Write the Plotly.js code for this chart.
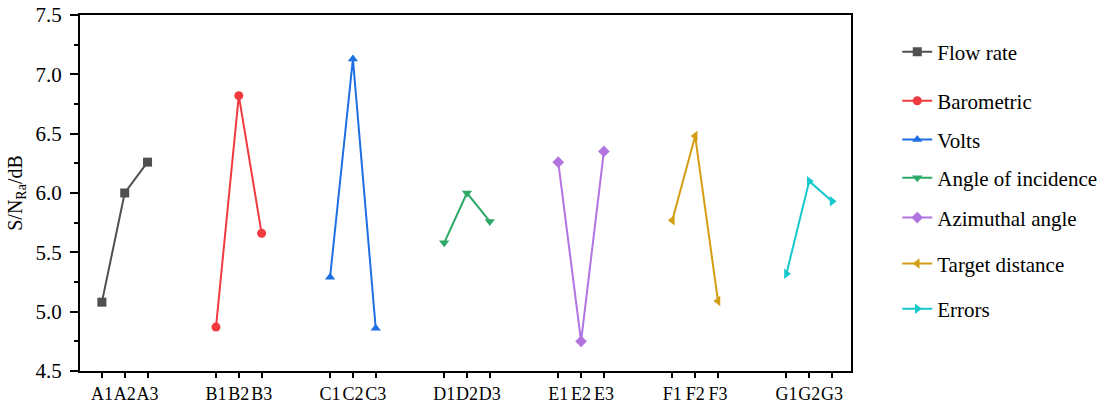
<!DOCTYPE html>
<html>
<head>
<meta charset="utf-8">
<script src="https://cdn.plot.ly/plotly-3.0.1.min.js"></script>
<style>html,body{margin:0;padding:0;background:#fff;}#chart{width:1111px;height:403px;}</style>
</head>
<body>
<div id="chart"></div>
<script>
// Data
const seriesNames = ['Flow rate', 'Barometric', 'Volts', 'Angle of incidence', 'Azimuthal angle', 'Target distance', 'Errors'];
const levelLabels = [
  ['A1', 'A2', 'A3'],
  ['B1', 'B2', 'B3'],
  ['C1', 'C2', 'C3'],
  ['D1', 'D2', 'D3'],
  ['E1', 'E2', 'E3'],
  ['F1', 'F2', 'F3'],
  ['G1', 'G2', 'G3']
];
const flowRate = [5.08, 6.00, 6.26];
const barometric = [4.87, 6.82, 5.66];
const volts = [5.29, 7.13, 4.86];
const angleOfIncidence = [5.58, 6.00, 5.76];
const azimuthalAngle = [6.26, 4.75, 6.35];
const targetDistance = [5.77, 6.48, 5.09];
const errors = [5.32, 6.10, 5.93];
const seriesValues = [flowRate, barometric, volts, angleOfIncidence, azimuthalAngle, targetDistance, errors];

// Styles
const colors = ['#505050', '#F03A40', '#1E6FE3', '#2EA866', '#B274E0', '#D49E12', '#14C8CC'];
const symbols = ['square', 'circle', 'triangle-up', 'triangle-down', 'diamond', 'triangle-left', 'triangle-right'];
const legendY = [0.896, 0.758, 0.649, 0.542, 0.430, 0.301, 0.174];
const font = 'Liberation Serif';

const groupStep = 5;
const tickvals = [], ticktext = [];
const traces = seriesNames.map((name, g) => {
  const xs = levelLabels[g].map((lab, i) => {
    const pos = g * groupStep + i + 1;
    tickvals.push(pos); ticktext.push(lab);
    return pos;
  });
  return {
    type: 'scatter', mode: 'lines+markers', name: name,
    x: xs, y: seriesValues[g],
    line: {color: colors[g], width: 2},
    marker: {symbol: symbols[g], size: 9, color: colors[g]},
    legend: g === 0 ? 'legend' : 'legend' + (g + 1)
  };
});

const layout = {
  width: 1111, height: 403,
  margin: {l: 80, r: 260, t: 15, b: 32, autoexpand: false},
  paper_bgcolor: '#fff', plot_bgcolor: '#fff',
  font: {family: font, size: 20, color: '#000'},
  showlegend: true,
  xaxis: {
    range: [0.04, 33.83], tickvals: tickvals, ticktext: ticktext,
    tickangle: 0, automargin: false,
    showgrid: false, zeroline: false,
    showline: true, linecolor: '#000', linewidth: 2, mirror: true,
    ticks: 'outside', ticklen: 5, tickwidth: 2, tickcolor: '#000',
    tickfont: {family: font, size: 18, color: '#000'}
  },
  yaxis: {
    range: [4.5, 7.5], dtick: 0.5, tick0: 4.5, tickformat: '.1f',
    automargin: false,
    showgrid: false, zeroline: false,
    showline: true, linecolor: '#000', linewidth: 2, mirror: true,
    ticks: 'outside', ticklen: 8, tickwidth: 2, tickcolor: '#000',
    ticklabelstandoff: 4,
    tickfont: {family: font, size: 21, color: '#000'},
    minor: {dtick: 0.25, ticks: 'outside', ticklen: 4, tickwidth: 2, tickcolor: '#000', showgrid: false},
    title: {text: 'S/N<sub>Ra</sub>/dB', font: {family: font, size: 20, color: '#000'}, standoff: 8}
  }
};
seriesNames.forEach((n, g) => {
  const key = g === 0 ? 'legend' : 'legend' + (g + 1);
  layout[key] = {
    x: 1.06, xanchor: 'left', y: legendY[g], yanchor: 'middle',
    bgcolor: 'rgba(0,0,0,0)', borderwidth: 0,
    font: {family: font, size: 21, color: '#000'},
    itemwidth: 30
  };
});

Plotly.newPlot('chart', traces, layout, {displayModeBar: false, staticPlot: true});
</script>
</body>
</html>
